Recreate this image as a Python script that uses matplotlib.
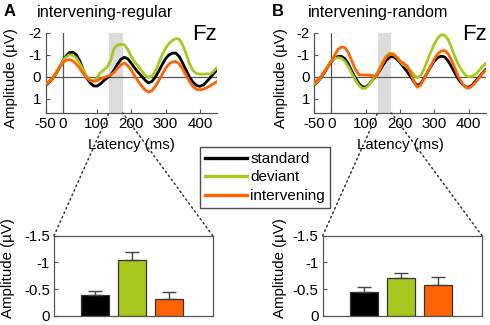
import matplotlib
matplotlib.use("Agg")
import matplotlib.pyplot as plt
from matplotlib.patches import ConnectionPatch
from matplotlib.lines import Line2D

plt.rcParams['font.family'] = ['Liberation Sans', 'DejaVu Sans']
plt.rcParams['axes.unicode_minus'] = False

# ---------------- data ----------------
latency = list(range(-50, 451, 10))

std_A = [0.39, 0.28, 0.10, -0.10, -0.40, -0.70, -0.95, -1.10, -1.12, -1.00,
         -0.72, -0.30, 0.05, 0.28, 0.42, 0.43, 0.33, 0.18, 0.05, -0.08,
         -0.30, -0.58, -0.80, -0.89, -0.82, -0.62, -0.40, -0.20, -0.03, 0.15,
         0.28, 0.22, 0.02, -0.25, -0.55, -0.82, -1.00, -1.08, -1.08, -0.92,
         -0.62, -0.30, 0.02, 0.25, 0.40, 0.44, 0.38, 0.22, 0.05, -0.15, -0.30]
dev_A = [0.35, 0.25, 0.08, -0.12, -0.42, -0.70, -0.90, -1.00, -0.98, -0.85,
         -0.60, -0.30, -0.02, 0.15, 0.21, 0.05, -0.18, -0.32, -0.45, -0.75,
         -1.30, -1.45, -1.48, -1.46, -1.25, -0.92, -0.68, -0.48, -0.28, -0.08,
         0.03, -0.02, -0.25, -0.62, -1.00, -1.30, -1.52, -1.66, -1.74, -1.72,
         -1.45, -1.05, -0.60, -0.28, -0.15, -0.12, -0.12, -0.13, -0.12, -0.25, -0.42]
int_A = [0.33, 0.22, 0.05, -0.15, -0.40, -0.62, -0.75, -0.78, -0.72, -0.58,
         -0.38, -0.15, 0.05, 0.17, 0.21, 0.18, 0.10, 0.04, -0.02, -0.08,
         -0.20, -0.38, -0.55, -0.63, -0.50, -0.30, -0.05, 0.20, 0.42, 0.60,
         0.70, 0.65, 0.45, 0.18, -0.10, -0.38, -0.58, -0.68, -0.70, -0.58,
         -0.35, -0.05, 0.22, 0.45, 0.58, 0.60, 0.57, 0.50, 0.42, 0.32, 0.22]

std_B = [0.37, 0.25, 0.05, -0.18, -0.45, -0.68, -0.85, -0.93, -0.93, -0.82,
         -0.58, -0.25, 0.05, 0.30, 0.46, 0.48, 0.35, 0.15, -0.02, -0.25,
         -0.52, -0.75, -0.90, -0.92, -0.82, -0.65, -0.45, -0.25, -0.02, 0.22,
         0.40, 0.32, 0.08, -0.20, -0.48, -0.72, -0.88, -0.94, -0.90, -0.72,
         -0.45, -0.15, 0.12, 0.32, 0.46, 0.48, 0.38, 0.20, 0.02, -0.18, -0.35]
dev_B = [0.35, 0.22, 0.02, -0.22, -0.50, -0.72, -0.84, -0.87, -0.84, -0.70,
         -0.45, -0.15, 0.15, 0.38, 0.53, 0.53, 0.38, 0.15, -0.08, -0.38,
         -0.70, -0.95, -1.08, -1.06, -0.92, -0.70, -0.55, -0.45, -0.30, -0.10,
         0.05, -0.05, -0.35, -0.75, -1.15, -1.50, -1.78, -1.92, -1.90, -1.70,
         -1.32, -0.90, -0.55, -0.28, -0.08, 0.00, -0.02, -0.12, -0.28, -0.48, -0.62]
int_B = [0.28, 0.15, -0.02, -0.22, -0.45, -0.70, -0.98, -1.25, -1.36, -1.33,
         -1.10, -0.72, -0.35, -0.10, -0.08, -0.08, -0.08, -0.05, 0.00, -0.28,
         -0.62, -0.90, -1.03, -1.02, -0.90, -0.72, -0.62, -0.50, -0.20, 0.20,
         0.48, 0.38, 0.10, -0.20, -0.52, -0.82, -1.05, -1.18, -1.20, -1.05,
         -0.75, -0.38, 0.00, 0.28, 0.48, 0.52, 0.42, 0.25, 0.05, -0.15, -0.32]

conditions = ['standard', 'deviant', 'intervening']
bar_A = [-0.39, -1.05, -0.31]
err_A = [0.08, 0.14, 0.14]
bar_B = [-0.45, -0.70, -0.58]
err_B = [0.08, 0.11, 0.15]

window = [135, 175]
xticks_top = [-50, 0, 100, 200, 300, 400]
yticks_top = [-2, -1, 0, 1]
yticks_bar = [-1.5, -1, -0.5, 0]
ytick_bar_labels = ['-1.5', '-1', '-0.5', '0']

colors = ['#000000', '#a8c820', '#ff6400']
spine_col = '#555555'

# ---------------- figure ----------------
W, H = 490, 325
fig = plt.figure(figsize=(4.9, 3.25), dpi=100)

def rect(l, t, w, h):
    return [l / W, 1 - (t + h) / H, w / W, h / H]

axA = fig.add_axes(rect(45.5, 33, 171.5, 80))
axB = fig.add_axes(rect(314, 33, 172, 80))
barA = fig.add_axes(rect(54, 235.7, 158.7, 80))
barB = fig.add_axes(rect(322.7, 235.7, 159.3, 80))

fs = 10.8
for ax, series, lab_x in [(axA, (std_A, dev_A, int_A), -0.2),
                          (axB, (std_B, dev_B, int_B), -0.19)]:
    ax.axvspan(window[0], window[1], color='#dcdcdc', lw=0, zorder=0)
    ax.axhline(0, color='#555555', lw=0.9, zorder=1)
    ax.axvline(0, color='#555555', lw=0.9, zorder=1)
    for s, c in zip(series, colors):
        ax.plot(latency, s, color=c, lw=2.0, zorder=3, solid_capstyle='round',
                solid_joinstyle='round')
    ax.set_xlim(-50, 450)
    ax.set_ylim(1.66, -2.0)
    ax.set_xticks(xticks_top)
    ax.set_yticks(yticks_top)
    ax.tick_params(direction='in', length=3, labelsize=fs, pad=3, color=spine_col)
    for sp in ['top', 'right']:
        ax.spines[sp].set_visible(False)
    for sp in ['left', 'bottom']:
        ax.spines[sp].set_color(spine_col)
        ax.spines[sp].set_linewidth(0.9)
    ax.set_xlabel('Latency (ms)', fontsize=fs)
    ax.set_ylabel('Amplitude (µV)', fontsize=fs)
    ax.xaxis.set_label_coords(0.5, -0.40)
    ax.xaxis.label.set_va('center')
    ax.yaxis.set_label_coords(lab_x, 0.44)
    ax.yaxis.label.set_va('center')

x_pos = [1, 2, 3]
for ax, vals, errs, lab_x in [(barA, bar_A, err_A, -0.293), (barB, bar_B, err_B, -0.268)]:
    ax.bar(x_pos, vals, width=0.75, color=colors, edgecolor='#333333', lw=0.9, zorder=2)
    ax.errorbar(x_pos, vals, yerr=[errs, [0, 0, 0]], fmt='none', ecolor='#444444',
                elinewidth=1.0, capsize=5, capthick=1.0, zorder=3)
    ax.set_xlim(-0.12, 4.18)
    ax.set_ylim(0, -1.5)
    ax.set_xticks([])
    ax.set_yticks(yticks_bar)
    ax.set_yticklabels(ytick_bar_labels)
    ax.tick_params(direction='in', length=3, labelsize=fs, pad=3, color=spine_col)
    for sp in ax.spines.values():
        sp.set_color(spine_col)
        sp.set_linewidth(0.9)
    ax.set_ylabel('Amplitude (µV)', fontsize=fs)
    ax.yaxis.set_label_coords(lab_x, 0.6)
    ax.yaxis.label.set_va('center')

# dotted zoom lines
for top, bot in [(axA, barA), (axB, barB)]:
    for xa, xb in [(0, window[0]), (1, window[1])]:
        con = ConnectionPatch(xyA=(xa, 1), coordsA=bot.transAxes,
                              xyB=(xb, 1.66), coordsB=top.transData,
                              linestyle=(0, (1, 2.2)), color='#333333', lw=1.1)
        fig.add_artist(con)

# panel titles
fig.text(4 / W, 1 - 12 / H, 'A', fontsize=12, fontweight='bold', va='center', ha='left')
fig.text(37 / W, 1 - 12 / H, 'intervening-regular', fontsize=11.7, va='center', ha='left')
fig.text(272 / W, 1 - 12 / H, 'B', fontsize=12, fontweight='bold', va='center', ha='left')
fig.text(308 / W, 1 - 12 / H, 'intervening-random', fontsize=11.7, va='center', ha='left')
fig.text(217 / W, 1 - 34 / H, 'Fz', fontsize=16, va='center', ha='right')
fig.text(487 / W, 1 - 34 / H, 'Fz', fontsize=16, va='center', ha='right')

# legend
handles = [Line2D([], [], color=c, lw=2.4) for c in colors]
leg = fig.legend(handles, conditions, loc='center',
                 bbox_to_anchor=(265 / W, 1 - 177.5 / H), fontsize=11,
                 frameon=True, fancybox=False, handlelength=2.75,
                 handletextpad=0.2, labelspacing=0.3, borderpad=0.35,
                 borderaxespad=0)
leg.get_frame().set_edgecolor('#222222')
leg.get_frame().set_linewidth(1.0)

fig.savefig('out.png', dpi=100)
